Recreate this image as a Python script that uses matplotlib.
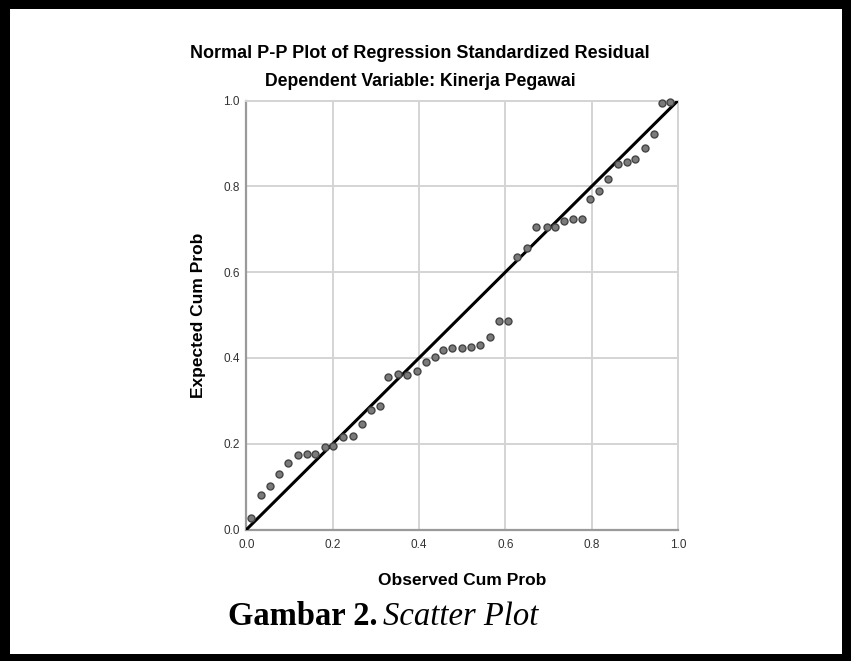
import matplotlib
matplotlib.use("Agg")
import matplotlib.pyplot as plt
from matplotlib.patches import Rectangle

# %%
# observed vs expected cumulative probabilities
observed = [0.010, 0.034, 0.055, 0.076, 0.096, 0.119, 0.140, 0.159, 0.182, 0.200,
            0.224, 0.246, 0.267, 0.289, 0.310, 0.328, 0.352, 0.373, 0.394, 0.416,
            0.436, 0.456, 0.476, 0.499, 0.520, 0.541, 0.565, 0.586, 0.607, 0.626,
            0.649, 0.671, 0.696, 0.716, 0.736, 0.756, 0.777, 0.796, 0.818, 0.838,
            0.861, 0.881, 0.901, 0.923, 0.944, 0.963, 0.981]
expected = [0.026, 0.080, 0.102, 0.129, 0.156, 0.174, 0.176, 0.176, 0.193, 0.195,
            0.216, 0.218, 0.246, 0.278, 0.288, 0.355, 0.362, 0.360, 0.370, 0.390,
            0.401, 0.418, 0.422, 0.422, 0.426, 0.430, 0.448, 0.487, 0.487, 0.636,
            0.656, 0.704, 0.706, 0.706, 0.720, 0.723, 0.723, 0.770, 0.788, 0.817,
            0.852, 0.856, 0.864, 0.889, 0.922, 0.994, 0.996]
ticks = [0.0, 0.2, 0.4, 0.6, 0.8, 1.0]
tick_labels = ["0.0", "0.2", "0.4", "0.6", "0.8", "1.0"]

title1 = "Normal P-P Plot of Regression Standardized Residual"
title2 = "Dependent Variable: Kinerja Pegawai"
caption_bold = "Gambar 2."
caption_italic = "Scatter Plot"

# %%
W, H = 851, 661
fig = plt.figure(figsize=(W / 100, H / 100), dpi=100)
sans = "Liberation Sans"
serif = "Liberation Serif"

# black frame round the page
for x0, y0, w, h in [(0, H - 9, W, 9), (0, 0, W, 7), (0, 0, 10, H), (W - 9, 0, 9, H)]:
    fig.patches.append(Rectangle((x0 / W, y0 / H), w / W, h / H, transform=fig.transFigure,
                                 facecolor="black", edgecolor="none"))

ax = fig.add_axes([246.5 / W, 1 - 529.5 / H, (678 - 246.5) / W, (529.5 - 100.5) / H])
ax.set_xlim(0, 1)
ax.set_ylim(0, 1)
ax.set_xticks(ticks)
ax.set_yticks(ticks)
ax.set_xticklabels(tick_labels, fontfamily=sans, fontsize=8.5, color="#333333")
ax.set_yticklabels(tick_labels, fontfamily=sans, fontsize=8.5, color="#333333")
ax.tick_params(axis="x", length=0, pad=7)
ax.tick_params(axis="y", length=0, pad=5)
ax.grid(True, color="#d4d4d4", linewidth=1.4)
ax.set_axisbelow(True)
for side in ["top", "right"]:
    ax.spines[side].set_color("#d4d4d4")
    ax.spines[side].set_linewidth(1.4)
for side in ["left", "bottom"]:
    ax.spines[side].set_color("#9a9a9a")
    ax.spines[side].set_linewidth(1.6)

ax.plot([0, 1], [0, 1], color="black", linewidth=2.2, zorder=3)
ax.scatter(observed, expected, s=25, facecolor="#7a7a7a", edgecolor="#444444",
           linewidth=1.0, zorder=4, clip_on=False)

ax.set_xlabel("Observed Cum Prob", fontfamily=sans, fontweight="bold", fontsize=12.5, labelpad=16)
ax.set_ylabel("Expected Cum Prob", fontfamily=sans, fontweight="bold", fontsize=12.5, labelpad=12)

fig.text(420 / W, 1 - 53 / H, title1, ha="center", va="center",
         fontfamily=sans, fontweight="bold", fontsize=13)
fig.text(420 / W, 1 - 82 / H, title2, ha="center", va="center",
         fontfamily=sans, fontweight="bold", fontsize=12.7)

fig.text(228 / W, 1 - 625 / H, caption_bold, ha="left", va="baseline",
         fontfamily=serif, fontweight="bold", fontsize=23.5)
fig.text(383 / W, 1 - 625 / H, caption_italic, ha="left", va="baseline",
         fontfamily=serif, fontstyle="italic", fontsize=23.5)

fig.savefig("out.png", dpi=100, facecolor="white")
